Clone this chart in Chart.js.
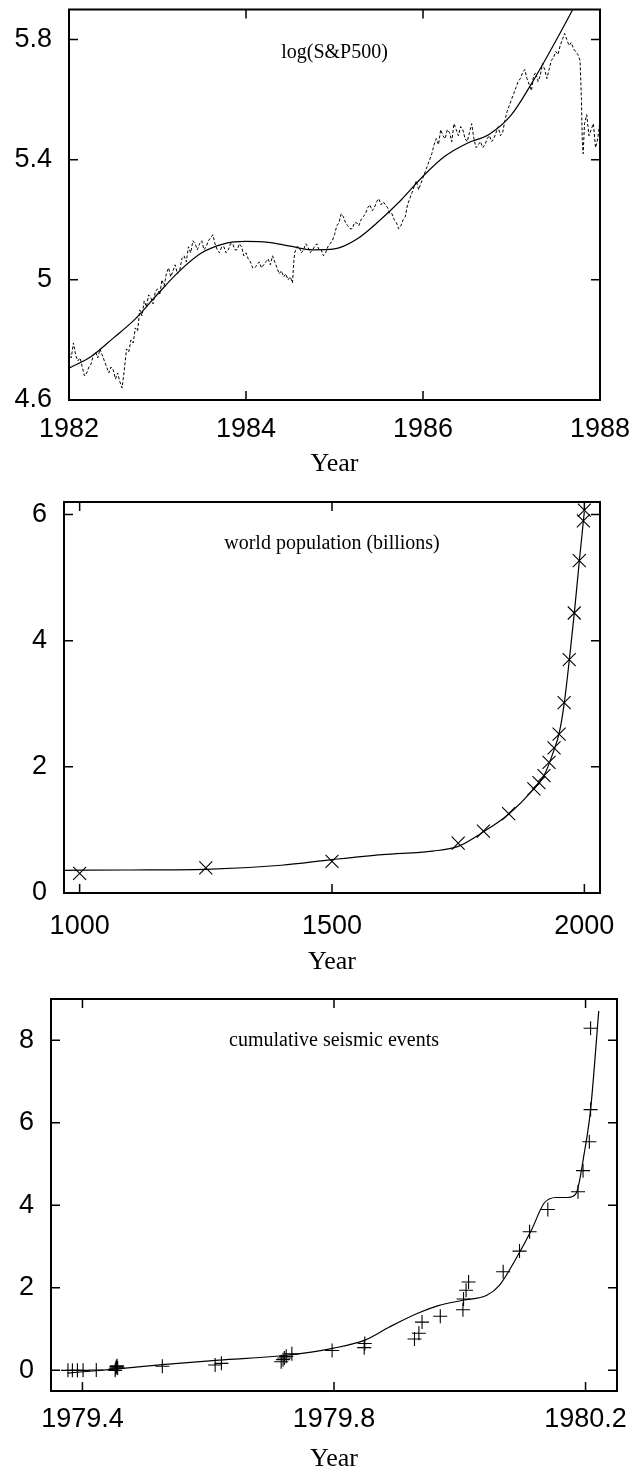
<!DOCTYPE html>
<html>
<head>
<meta charset="utf-8">
<script src="https://cdn.jsdelivr.net/npm/chart.js@4.4.1/dist/chart.umd.min.js"></script>
<style>
  body { margin: 0; background: #fff; width: 634px; height: 1475px; position: relative; overflow: hidden; }
  canvas { position: absolute; left: 0; }
</style>
</head>
<body>
<canvas id="sp" width="634" height="479" style="top:0px"></canvas>
<canvas id="pop" width="634" height="485" style="top:490px"></canvas>
<canvas id="seis" width="634" height="495" style="top:980px"></canvas>
<script>
// --- log(S&P500), 1982-1988 ---
const spYears = [
  1982.000, 1982.025, 1982.050, 1982.075, 1982.100, 1982.125, 1982.150, 1982.175, 1982.200, 1982.225,
  1982.250, 1982.275, 1982.300, 1982.325, 1982.350, 1982.375, 1982.400, 1982.425, 1982.450, 1982.475,
  1982.500, 1982.525, 1982.550, 1982.575, 1982.600, 1982.625, 1982.650, 1982.675, 1982.700, 1982.725,
  1982.750, 1982.775, 1982.800, 1982.825, 1982.850, 1982.875, 1982.900, 1982.925, 1982.950, 1982.975,
  1983.000, 1983.025, 1983.050, 1983.075, 1983.100, 1983.125, 1983.150, 1983.175, 1983.200, 1983.225,
  1983.250, 1983.275, 1983.300, 1983.325, 1983.350, 1983.375, 1983.400, 1983.425, 1983.450, 1983.475,
  1983.500, 1983.525, 1983.550, 1983.575, 1983.600, 1983.625, 1983.650, 1983.675, 1983.700, 1983.725,
  1983.750, 1983.775, 1983.800, 1983.825, 1983.850, 1983.875, 1983.900, 1983.925, 1983.950, 1983.975,
  1984.000, 1984.025, 1984.050, 1984.075, 1984.100, 1984.125, 1984.150, 1984.175, 1984.200, 1984.225,
  1984.250, 1984.275, 1984.300, 1984.325, 1984.350, 1984.375, 1984.400, 1984.425, 1984.450, 1984.475,
  1984.500, 1984.525, 1984.540, 1984.550, 1984.575, 1984.600, 1984.625, 1984.650, 1984.675, 1984.700,
  1984.725, 1984.750, 1984.775, 1984.800, 1984.825, 1984.850, 1984.875, 1984.900, 1984.925, 1984.950,
  1984.975, 1985.000, 1985.025, 1985.050, 1985.075, 1985.100, 1985.125, 1985.150, 1985.175, 1985.200,
  1985.225, 1985.250, 1985.275, 1985.300, 1985.325, 1985.350, 1985.375, 1985.400, 1985.425, 1985.450,
  1985.475, 1985.500, 1985.525, 1985.550, 1985.575, 1985.600, 1985.625, 1985.650, 1985.675, 1985.700,
  1985.725, 1985.750, 1985.775, 1985.800, 1985.825, 1985.850, 1985.875, 1985.900, 1985.925, 1985.950,
  1985.975, 1986.000, 1986.025, 1986.050, 1986.075, 1986.100, 1986.125, 1986.150, 1986.175, 1986.200,
  1986.225, 1986.250, 1986.275, 1986.300, 1986.325, 1986.350, 1986.375, 1986.400, 1986.425, 1986.450,
  1986.475, 1986.500, 1986.525, 1986.550, 1986.575, 1986.600, 1986.625, 1986.650, 1986.675, 1986.700,
  1986.725, 1986.750, 1986.775, 1986.800, 1986.825, 1986.850, 1986.875, 1986.900, 1986.925, 1986.950,
  1986.975, 1987.000, 1987.025, 1987.050, 1987.075, 1987.100, 1987.125, 1987.150, 1987.175, 1987.200,
  1987.225, 1987.250, 1987.275, 1987.300, 1987.325, 1987.350, 1987.375, 1987.400, 1987.425, 1987.450,
  1987.475, 1987.500, 1987.525, 1987.550, 1987.575, 1987.600, 1987.625, 1987.650, 1987.675, 1987.700,
  1987.725, 1987.750, 1987.775, 1987.790, 1987.800, 1987.810, 1987.825, 1987.850, 1987.875, 1987.900,
  1987.925, 1987.950, 1987.975, 1988.000
];
const spLog = [
  4.76, 4.74, 4.79, 4.75, 4.73, 4.74, 4.71, 4.68, 4.69, 4.71,
  4.72, 4.75, 4.76, 4.74, 4.77, 4.75, 4.73, 4.71, 4.69, 4.71,
  4.70, 4.67, 4.69, 4.66, 4.64, 4.70, 4.77, 4.76, 4.80, 4.79,
  4.84, 4.83, 4.90, 4.88, 4.93, 4.91, 4.95, 4.94, 4.92, 4.96,
  4.97, 4.95, 5.00, 4.98, 5.02, 5.04, 5.01, 5.03, 5.05, 5.02,
  5.03, 5.07, 5.08, 5.06, 5.11, 5.09, 5.13, 5.12, 5.10, 5.12,
  5.13, 5.10, 5.11, 5.13, 5.14, 5.15, 5.12, 5.10, 5.09, 5.11,
  5.11, 5.09, 5.10, 5.12, 5.12, 5.10, 5.10, 5.12, 5.11, 5.08,
  5.09, 5.07, 5.06, 5.04, 5.04, 5.05, 5.06, 5.04, 5.05, 5.06,
  5.07, 5.05, 5.08, 5.06, 5.04, 5.02, 5.03, 5.01, 5.02, 5.00,
  5.01, 4.99, 5.06, 5.09, 5.11, 5.11, 5.09, 5.10, 5.12, 5.11,
  5.09, 5.10, 5.11, 5.12, 5.10, 5.10, 5.08, 5.09, 5.11, 5.12,
  5.13, 5.15, 5.18, 5.19, 5.22, 5.21, 5.19, 5.18, 5.17, 5.17,
  5.19, 5.19, 5.18, 5.20, 5.21, 5.22, 5.24, 5.25, 5.23, 5.24,
  5.26, 5.27, 5.25, 5.26, 5.25, 5.24, 5.22, 5.22, 5.20, 5.19,
  5.17, 5.18, 5.20, 5.21, 5.25, 5.27, 5.29, 5.31, 5.33, 5.30,
  5.32, 5.34, 5.36, 5.38, 5.40, 5.42, 5.45, 5.47, 5.45, 5.50,
  5.48, 5.47, 5.50, 5.49, 5.46, 5.52, 5.50, 5.48, 5.51, 5.50,
  5.47, 5.46, 5.49, 5.52, 5.47, 5.44, 5.45, 5.46, 5.44, 5.45,
  5.47, 5.48, 5.46, 5.47, 5.49, 5.51, 5.48, 5.49, 5.53, 5.56,
  5.58, 5.60, 5.62, 5.64, 5.66, 5.67, 5.69, 5.70, 5.67, 5.65,
  5.63, 5.68, 5.69, 5.66, 5.68, 5.72, 5.70, 5.67, 5.70, 5.73,
  5.74, 5.76, 5.75, 5.78, 5.80, 5.82, 5.80, 5.78, 5.79, 5.77,
  5.76, 5.75, 5.73, 5.60, 5.46, 5.42, 5.52, 5.55, 5.48, 5.50,
  5.52, 5.44, 5.47, 5.53
];
const spFitYears = [
  1982.00, 1982.25, 1982.50, 1982.75, 1983.00, 1983.25, 1983.50, 1983.75, 1984.00, 1984.25,
  1984.50, 1984.75, 1985.00, 1985.25, 1985.50, 1985.75, 1986.00, 1986.25, 1986.50, 1986.75,
  1987.00, 1987.25, 1987.50, 1987.70, 1987.75
];
const spFit = [
  4.706, 4.745, 4.806, 4.870, 4.952, 5.030, 5.090, 5.120, 5.128, 5.125,
  5.112, 5.100, 5.103, 5.135, 5.195, 5.265, 5.345, 5.412, 5.455, 5.485,
  5.550, 5.665, 5.795, 5.905, 5.935
];
const spXTicks = [1982, 1984, 1986, 1988];
const spYTicks = [4.6, 5, 5.4, 5.8];

// --- world population (billions) ---
const popYears = [1000, 1250, 1500, 1750, 1800, 1850, 1900, 1910, 1920, 1930, 1940, 1950, 1960, 1970, 1980, 1990, 1998, 2000];
const popBillions = [0.31, 0.40, 0.50, 0.79, 0.98, 1.26, 1.65, 1.75, 1.86, 2.07, 2.30, 2.52, 3.02, 3.70, 4.44, 5.27, 5.90, 6.07];
const popFitYears = [969, 1100, 1250, 1400, 1500, 1600, 1700, 1750, 1800, 1850, 1900, 1920, 1940, 1950, 1960, 1970, 1980, 1990, 2000];
const popFit = [0.36, 0.365, 0.375, 0.44, 0.53, 0.61, 0.665, 0.74, 0.97, 1.25, 1.65, 1.86, 2.27, 2.53, 3.00, 3.68, 4.43, 5.26, 6.05];
const popXTicks = [1000, 1500, 2000];
const popYTicks = [0, 2, 4, 6];

// --- cumulative seismic events ---
const seisYears = [
  1979.377, 1979.384, 1979.392, 1979.401, 1979.422, 1979.452, 1979.453, 1979.454, 1979.455, 1979.456,
  1979.527, 1979.611, 1979.621, 1979.716, 1979.719, 1979.721, 1979.724, 1979.733, 1979.797, 1979.848,
  1979.849, 1979.928, 1979.935, 1979.940, 1979.969, 1980.005, 1980.006, 1980.010, 1980.014, 1980.069,
  1980.095, 1980.111, 1980.140, 1980.188, 1980.196, 1980.206, 1980.208, 1980.208
];
const seisEvents = [
  0.00, 0.00, 0.00, 0.00, 0.01, 0.00, 0.05, 0.09, 0.11, 0.06,
  0.10, 0.13, 0.17, 0.21, 0.26, 0.30, 0.34, 0.40, 0.48, 0.55,
  0.65, 0.76, 0.90, 1.17, 1.31, 1.47, 1.73, 1.94, 2.14, 2.39,
  2.89, 3.36, 3.90, 4.33, 4.84, 5.54, 6.32, 8.29
];
const seisFitYears = [
  1979.376, 1979.452, 1979.527, 1979.617, 1979.720, 1979.800, 1979.850, 1979.888, 1979.934, 1979.966,
  1980.005, 1980.043, 1980.063, 1980.088, 1980.114, 1980.134, 1980.153, 1980.172, 1980.185, 1980.198,
  1980.208, 1980.221
];
const seisFit = [
  -0.065, 0.03, 0.14, 0.25, 0.36, 0.54, 0.74, 1.05, 1.39, 1.57,
  1.70, 1.82, 2.06, 2.67, 3.40, 4.05, 4.19, 4.19, 4.29, 5.27,
  6.32, 8.71
];
const seisXTicks = [1979.4, 1979.8, 1980.2];
const seisYTicks = [0, 2, 4, 6, 8];

const TICK_LEN = 9;

const toPoints = (xs, ys) => xs.map((x, i) => ({ x: x, y: ys[i] }));

// gnuplot-style box with inward ticks on all four sides, plus the label inside
const framePlugin = {
  id: "frame",
  afterDraw(chart, args, opts) {
    const ctx = chart.ctx;
    const a = chart.chartArea;
    const xs = chart.scales.x;
    const ys = chart.scales.y;
    ctx.save();
    ctx.strokeStyle = "#000";
    ctx.lineWidth = 1.5;
    ctx.beginPath();
    opts.xTicks.forEach((v) => {
      const px = xs.getPixelForValue(v);
      ctx.moveTo(px, a.bottom);
      ctx.lineTo(px, a.bottom - TICK_LEN);
      ctx.moveTo(px, a.top);
      ctx.lineTo(px, a.top + TICK_LEN);
    });
    opts.yTicks.forEach((v) => {
      const py = ys.getPixelForValue(v);
      ctx.moveTo(a.left, py);
      ctx.lineTo(a.left + TICK_LEN, py);
      ctx.moveTo(a.right, py);
      ctx.lineTo(a.right - TICK_LEN, py);
    });
    ctx.stroke();
    ctx.lineWidth = 2;
    ctx.strokeRect(a.left, a.top, a.right - a.left, a.bottom - a.top);

    ctx.fillStyle = "#000";
    ctx.font = '20px "Liberation Serif"';
    ctx.textAlign = "center";
    ctx.textBaseline = "middle";
    ctx.fillText(opts.note, xs.getPixelForValue(opts.noteAt[0]), ys.getPixelForValue(opts.noteAt[1]));
    ctx.restore();
  },
};

const makePanel = (id, p, datasets) => {
  const canvas = document.getElementById(id);
  const H = canvas.height;
  const top = p.canvasTop;
  return new Chart(canvas, {
    type: "scatter",
    data: { datasets: datasets },
    plugins: [framePlugin],
    options: {
      responsive: false,
      animation: false,
      devicePixelRatio: 1,
      layout: { padding: { left: 0, right: 634 - p.area.right, top: p.area.top - top, bottom: 0 } },
      plugins: {
        legend: { display: false },
        tooltip: { enabled: false },
        frame: { xTicks: p.xTicks, yTicks: p.yTicks, note: p.note, noteAt: p.noteAt },
      },
      scales: {
        x: {
          type: "linear",
          min: p.xMin,
          max: p.xMax,
          grid: { display: false, drawTicks: false },
          border: { display: false },
          afterBuildTicks: (s) => { s.ticks = p.xTicks.map((v) => ({ value: v })); },
          ticks: {
            autoSkip: false,
            maxRotation: 0,
            color: "#000",
            font: { family: "Liberation Sans", size: 27, lineHeight: 1 },
            padding: p.labelY - p.area.bottom - 13.5,
            callback: (v) => String(v),
          },
          title: {
            display: true,
            text: "Year",
            color: "#000",
            font: { family: "Liberation Serif", size: 26, lineHeight: 1 },
            padding: { top: 0, bottom: H - (p.titleY - top) - 13 },
          },
          afterFit: (s) => {
            s.height = H - (p.area.bottom - top);
            s.paddingLeft = 0;
            s.paddingRight = 0;
          },
        },
        y: {
          type: "linear",
          min: p.yMin,
          max: p.yMax,
          grid: { display: false, drawTicks: false },
          border: { display: false },
          afterBuildTicks: (s) => { s.ticks = p.yTicks.map((v) => ({ value: v })); },
          ticks: {
            color: "#000",
            font: { family: "Liberation Sans", size: 27, lineHeight: 1 },
            padding: 17,
            callback: (v) => String(v),
          },
          afterFit: (s) => {
            s.width = p.area.left;
            s.paddingTop = 0;
            s.paddingBottom = 0;
          },
        },
      },
    },
  });
};

const lineSet = (pts, extra) => Object.assign({
  data: pts,
  showLine: true,
  pointRadius: 0,
  borderColor: "#000",
  backgroundColor: "#000",
  borderWidth: 1.2,
  cubicInterpolationMode: "monotone",
}, extra);

makePanel("sp", {
  canvasTop: 0,
  area: { left: 69, right: 600, top: 9.5, bottom: 400 },
  labelY: 430, titleY: 464,
  xMin: 1982, xMax: 1988, yMin: 4.6, yMax: 5.9,
  xTicks: spXTicks, yTicks: spYTicks,
  note: "log(S&P500)", noteAt: [1985, 5.755],
}, [
  lineSet(toPoints(spYears, spLog), { borderWidth: 1, borderDash: [3, 2], cubicInterpolationMode: "default", tension: 0 }),
  lineSet(toPoints(spFitYears, spFit)),
]);

makePanel("pop", {
  canvasTop: 490,
  area: { left: 64, right: 600, top: 502, bottom: 893 },
  labelY: 927, titleY: 962,
  xMin: 969, xMax: 2031, yMin: 0, yMax: 6.2,
  xTicks: popXTicks, yTicks: popYTicks,
  note: "world population (billions)", noteAt: [1500, 5.54],
}, [
  lineSet(toPoints(popFitYears, popFit)),
  {
    data: toPoints(popYears, popBillions),
    pointStyle: "crossRot",
    pointRadius: 9.2,
    pointBorderWidth: 1.1,
    borderColor: "#000",
    backgroundColor: "#000",
  },
]);

makePanel("seis", {
  canvasTop: 980,
  area: { left: 51, right: 617, top: 999, bottom: 1391 },
  labelY: 1419.5, titleY: 1459,
  xMin: 1979.35, xMax: 1980.25, yMin: -0.5, yMax: 9,
  xTicks: seisXTicks, yTicks: seisYTicks,
  note: "cumulative seismic events", noteAt: [1979.8, 8],
}, [
  lineSet(toPoints(seisFitYears, seisFit)),
  {
    data: toPoints(seisYears, seisEvents),
    pointStyle: "cross",
    pointRadius: 7,
    pointBorderWidth: 1.1,
    borderColor: "#000",
    backgroundColor: "#000",
  },
]);
</script>
</body>
</html>
